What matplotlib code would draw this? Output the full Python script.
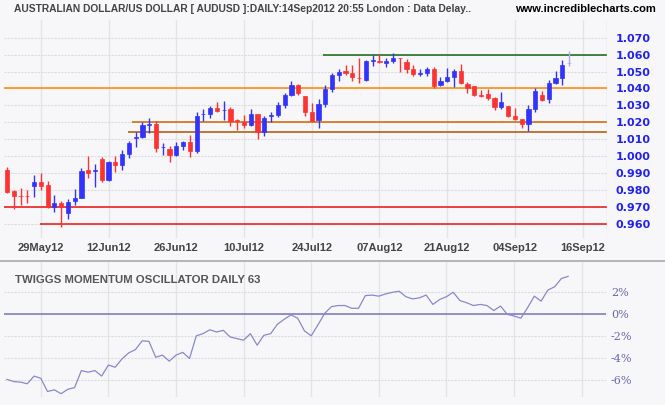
import matplotlib
matplotlib.use("Agg")
import matplotlib.pyplot as plt
from matplotlib.patches import Rectangle

opens = [0.9918,0.9794,0.9766,0.9766,0.9826,0.9846,0.9830,0.9698,0.9724,0.9667,0.9737,0.9755,0.9918,0.9913,0.9983,0.9859,0.9966,0.9950,1.0015,1.0109,
         1.0115,1.0187,1.0190,1.0054,1.0040,1.0007,1.0062,1.0084,1.0033,1.0247,1.0249,1.0284,1.0270,1.0279,1.0210,1.0200,1.0184,1.0249,1.0145,1.0240,
         1.0243,1.0302,1.0361,1.0420,1.0355,1.0261,1.0216,1.0310,1.0397,1.0479,1.0505,1.0493,1.0462,1.0450,1.0562,1.0564,1.0552,1.0564,1.0580,1.0556,
         1.0513,1.0487,1.0493,1.0513,1.0420,1.0446,1.0469,1.0503,1.0424,1.0414,1.0359,1.0367,1.0341,1.0292,1.0296,1.0237,1.0220,1.0190,1.0277,1.0361,
         1.0338,1.0430,1.0464,1.0548]
closes = [0.9791,0.9767,0.9764,0.9764,0.9846,0.9826,0.9698,0.9724,0.9698,0.9730,0.9755,0.9913,0.9901,0.9915,0.9859,0.9966,0.9950,1.0013,1.0078,1.0111,
          1.0184,1.0189,1.0050,1.0056,1.0009,1.0060,1.0084,1.0033,1.0237,1.0249,1.0284,1.0267,1.0272,1.0208,1.0208,1.0184,1.0249,1.0145,1.0225,1.0242,
          1.0302,1.0361,1.0420,1.0375,1.0263,1.0210,1.0308,1.0397,1.0479,1.0499,1.0489,1.0466,1.0460,1.0562,1.0564,1.0558,1.0564,1.0582,1.0578,1.0517,
          1.0485,1.0489,1.0513,1.0416,1.0444,1.0466,1.0505,1.0430,1.0401,1.0363,1.0357,1.0345,1.0288,1.0322,1.0237,1.0218,1.0190,1.0277,1.0385,1.0332,
          1.0434,1.0464,1.0538,1.0550]
highs = [0.9936,0.9800,0.9810,0.9800,0.9889,0.9899,0.9853,0.9771,0.9735,0.9745,0.9806,0.9930,1.0001,0.9954,0.9997,0.9974,1.0001,1.0037,1.0092,1.0145,
         1.0204,1.0227,1.0208,1.0080,1.0060,1.0084,1.0092,1.0125,1.0261,1.0279,1.0298,1.0320,1.0328,1.0289,1.0218,1.0243,1.0279,1.0249,1.0237,1.0259,
         1.0320,1.0373,1.0444,1.0426,1.0355,1.0316,1.0338,1.0420,1.0493,1.0513,1.0538,1.0538,1.0578,1.0568,1.0595,1.0603,1.0578,1.0607,1.0582,1.0574,
         1.0538,1.0513,1.0525,1.0525,1.0466,1.0519,1.0513,1.0544,1.0440,1.0414,1.0391,1.0397,1.0347,1.0381,1.0296,1.0282,1.0220,1.0302,1.0401,1.0385,
         1.0450,1.0505,1.0568,1.0623]
lows = [0.9785,0.9690,0.9712,0.9726,0.9761,0.9800,0.9692,0.9672,0.9584,0.9631,0.9712,0.9751,0.9873,0.9820,0.9850,0.9853,0.9909,0.9918,0.9991,1.0056,
        1.0105,1.0135,1.0027,1.0007,0.9968,1.0001,1.0036,0.9997,1.0021,1.0210,1.0227,1.0259,1.0214,1.0178,1.0155,1.0164,1.0178,1.0103,1.0119,1.0204,
        1.0233,1.0286,1.0355,1.0361,1.0239,1.0210,1.0168,1.0292,1.0381,1.0446,1.0479,1.0446,1.0434,1.0446,1.0534,1.0548,1.0528,1.0552,1.0499,1.0493,
        1.0475,1.0475,1.0475,1.0404,1.0416,1.0440,1.0410,1.0426,1.0375,1.0357,1.0347,1.0332,1.0273,1.0277,1.0229,1.0214,1.0168,1.0149,1.0263,1.0326,
        1.0316,1.0426,1.0420,1.0532]
momentum = [-5.9,-6.1,-6.15,-6.3,-5.6,-5.8,-7.0,-6.85,-7.2,-6.8,-6.65,-5.1,-5.25,-5.1,-5.6,-4.6,-4.8,-4.05,-3.5,-3.2,
            -2.4,-2.45,-3.9,-3.7,-4.25,-3.7,-3.45,-4.0,-1.95,-1.75,-1.4,-1.6,-1.45,-2.05,-2.2,-2.35,-1.75,-2.8,-1.9,-1.75,
            -0.9,-0.45,-0.05,-0.35,-1.5,-1.95,-0.95,0.1,0.7,0.8,0.8,0.55,0.55,1.7,1.75,1.65,1.85,2.0,2.1,1.6,
            1.4,1.5,1.75,0.9,1.35,1.6,2.0,1.25,1.05,0.8,0.9,0.8,0.35,0.75,0.0,-0.15,-0.35,0.6,1.65,1.2,
            2.2,2.5,3.25,3.45]
tick_pos = [5, 15, 25, 35, 45, 55, 65, 75, 85]
tick_labels = ["29May12","12Jun12","26Jun12","10Jul12","24Jul12","07Aug12","21Aug12","04Sep12","16Sep12"]
price_ticks = [0.96,0.97,0.98,0.99,1.00,1.01,1.02,1.03,1.04,1.05,1.06,1.07]
mom_ticks = [-6,-4,-2,0,2]

W, H = 665, 405
bg = "#f7f7fa"
fig = plt.figure(figsize=(6.65, 4.05), dpi=100, facecolor=bg)

def fr(x0, y0, x1, y1):
    return [x0/W, 1-y1/H, (x1-x0)/W, (y1-y0)/H]

ax = fig.add_axes(fr(4, 20, 607, 237.7), facecolor=bg)
ax2 = fig.add_axes(fr(4, 262, 606, 397), facecolor=bg)
xl = (-0.44, 88.6)
for a in (ax, ax2):
    a.set_xlim(*xl)
    for s in a.spines.values():
        s.set_visible(False)
    a.set_xticks(tick_pos)
    a.grid(axis='x', color='#e4e4e8', lw=1)
    a.tick_params(length=0)
    a.set_axisbelow(True)
ax.set_ylim(0.9519, 1.0804)
ax.set_yticks(price_ticks)
ax.grid(axis='y', color='#dddddd', lw=0.8, ls=(0, (2, 1)))
ax.yaxis.tick_right()
ax.set_yticklabels([f"{v:.3f}" for v in price_ticks], color='#2222ee', fontweight='bold', fontsize=8)
ax.set_xticklabels(tick_labels, color='#444444', fontweight='bold', fontsize=8, family='Liberation Sans')
ax.tick_params(axis='x', pad=4)
ax.tick_params(axis='y', pad=6)

# horizontal levels
ax.axhline(1.040, color='#ff8800', lw=1.1, zorder=1)
ax.axhline(0.970, color='#ee1111', lw=1.1, zorder=1)
ax.hlines(1.060, 46.7, xl[1], color='#116611', lw=1.1, zorder=1)
ax.hlines(1.020, 18.5, xl[1], color='#cc6600', lw=1.1, zorder=1)
ax.hlines(1.0145, 17.9, xl[1], color='#aa5500', lw=1.1, zorder=1)
ax.hlines(0.960, 4.9, xl[1], color='#ee1111', lw=1.1, zorder=1)
ax.axvline(xl[1], color='#dddddd', lw=1)

w = 0.62
n = len(opens)
for i in range(n):
    o, c, h, l = opens[i], closes[i], highs[i], lows[i]
    col = '#3333ff' if c >= o else '#ff3333'
    if i == n-1:
        col = '#aaaaee'
    ax.vlines(i, l, h, color=col, lw=1.0, zorder=3)
    bot, top = min(o, c), max(o, c)
    hgt = max(top-bot, 0.0003)
    ax.add_patch(Rectangle((i-w/2, bot), w, hgt, facecolor=col, edgecolor=col, lw=0.5, zorder=4))

# momentum panel
ax2.set_ylim(-7.5, 4.75)
ax2.set_yticks(mom_ticks)
ax2.grid(axis='y', color='#dddddd', lw=0.8, ls=(0, (2, 1)))
ax2.yaxis.tick_right()
ax2.set_yticklabels([f"{v}%" for v in mom_ticks], color='#6666aa', fontsize=8, family='DejaVu Serif')
ax2.set_xticklabels([])
ax2.axhline(0, color='#7777bb', lw=1.1)
ax2.plot(range(n), momentum, color='#8888cc', lw=0.9)
ax2.hlines(-7.5, xl[0], xl[1], color='#dddddd', lw=0.8)

fig.add_artist(plt.Line2D([0, 1], [1-261/H, 1-261/H], color='#aaaaaa', lw=1.2))
fig.text(14/W, 1-9/H, "AUSTRALIAN DOLLAR/US DOLLAR [ AUDUSD ]:DAILY:14Sep2012 20:55 London : Data Delay..",
         fontsize=7.4, color='#444444', fontweight='bold', va='center', family='Liberation Sans')
fig.text(656/W, 1-9/H, "www.incrediblecharts.com", fontsize=8, color='black', fontweight='bold',
         va='center', ha='right', family='Liberation Sans')
fig.text(15/W, 1-280/H, "TWIGGS MOMENTUM OSCILLATOR DAILY 63", fontsize=8.2, color='#555555',
         fontweight='bold', va='center', family='Liberation Sans')

fig.savefig("out.png", dpi=100, facecolor=bg)
